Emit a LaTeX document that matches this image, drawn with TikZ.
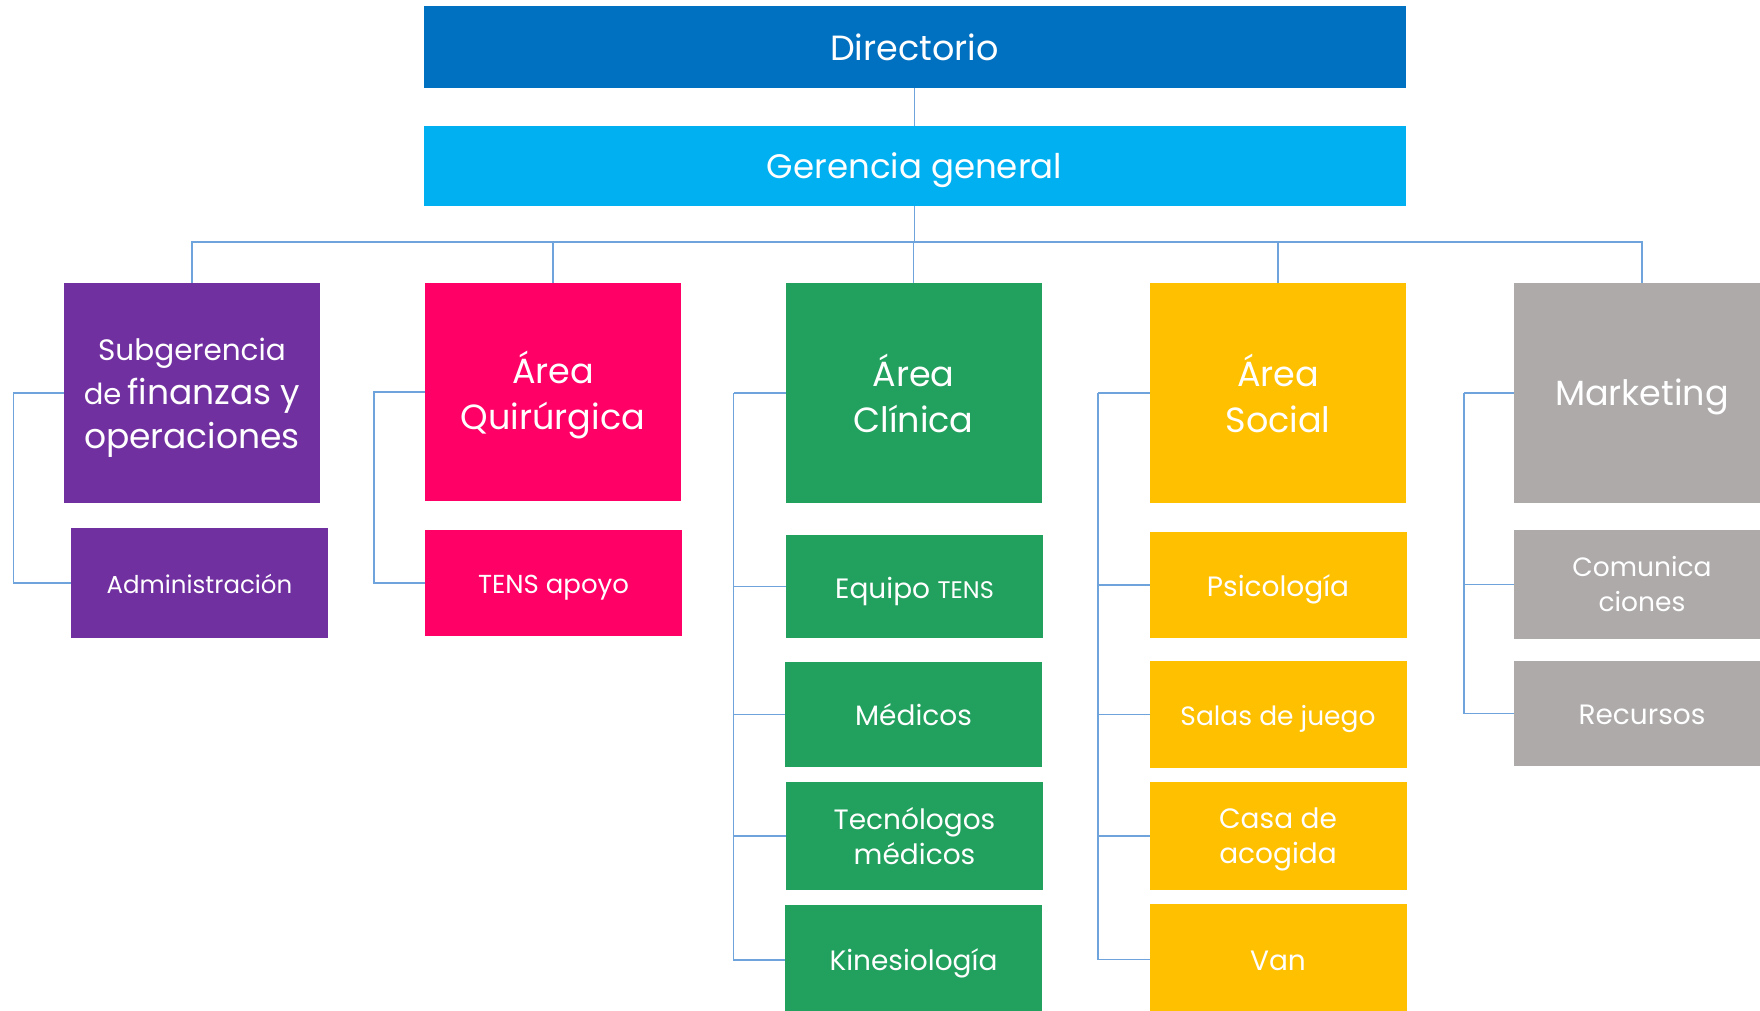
\documentclass[tikz,border=0pt]{standalone}
\usepackage{fontspec}
\setmainfont{Poppins}
\definecolor{cDir}{HTML}{0070C0}
\definecolor{cGer}{HTML}{00B0F0}
\definecolor{cSub}{HTML}{7030A0}
\definecolor{cQui}{HTML}{FF0066}
\definecolor{cCli}{HTML}{21A05E}
\definecolor{cSoc}{HTML}{FFC000}
\definecolor{cMkt}{HTML}{AEAAAA}
\definecolor{cLine}{HTML}{6FA3DC}
\begin{document}
\begin{tikzpicture}[x=1pt,y=-1pt,
  box/.style={rectangle,inner sep=0pt,outer sep=0pt,text=white,align=center},
  top/.style={box,font=\fontsize{35}{46}\selectfont},
  par/.style={box,minimum width=256pt,minimum height=220pt,font=\fontsize{35}{46}\selectfont},
  kid/.style={box,minimum width=257pt,font=\fontsize{28}{35}\selectfont},
  capc/.style={text height=#1,text depth=0pt},
  conn/.style={draw=cLine,line width=1.3pt}]
\useasboundingbox (0,0) rectangle (1760,1010);
\clip (0,0) rectangle (1760,1010);
\fill[white] (0,0) rectangle (1760,1010);

% top level
\node[top,fill=cDir,minimum width=982pt,minimum height=82pt,capc=26.5pt] (dir) at (914.5,47) {Directorio};
\node[top,fill=cGer,minimum width=982pt,minimum height=80pt,capc=25.5pt,font=\fontsize{34}{46}\selectfont] (ger) at (914.5,166) {Gerencia general};

% second level
\node[par,fill=cSub] (sub) at (192,393) {\fontsize{29.5}{43}\selectfont Subgerencia\\[-2pt]
  {\fontsize{29}{43}\selectfont de}\,{\fontsize{34.5}{43}\selectfont finanzas y}\\[-2pt]
  {\fontsize{34.5}{43}\selectfont \smash{operaciones}}};
\node[par,fill=cQui,minimum height=218pt,text depth=4pt] (qui) at (553,392) {Área\\\smash{Quirúrgica}};
\node[par,fill=cCli] (cli) at (913.5,393) {Área\\Clínica};
\node[par,fill=cSoc] (soc) at (1278,393) {Área\\Social};
\node[par,fill=cMkt,capc=25.5pt] (mkt) at (1642,393) {Marketing};

% children
\node[kid,fill=cSub,minimum height=110pt,font=\fontsize{24.5}{35}\selectfont,capc=20.5pt] (adm) at (199.5,583) {Administración};
\node[kid,fill=cQui,minimum height=106pt,font=\fontsize{26}{35}\selectfont,capc=20.5pt] (tap) at (553.5,583) {TENS apoyo};

\node[kid,fill=cCli,minimum height=103pt,capc=23pt] (eqt) at (914.5,586.5) {Equipo {\fontsize{24}{35}\selectfont TENS}};
\node[kid,fill=cCli,minimum height=105pt,capc=22pt] (med) at (913.5,714.5) {Médicos};
\node[kid,fill=cCli,minimum height=108pt] (tec) at (914.5,836) {Tecnólogos\\médicos};
\node[kid,fill=cCli,minimum height=110pt,capc=21.5pt] (kin) at (913.5,960) {Kinesiología};

\node[kid,fill=cSoc,minimum height=106pt,capc=23pt] (psi) at (1278,585) {Psicología};
\node[kid,fill=cSoc,minimum height=107pt,font=\fontsize{26.5}{35}\selectfont,capc=22pt] (sal) at (1278,714.5) {Salas de juego};
\node[kid,fill=cSoc,minimum height=108pt] (cas) at (1278,836) {Casa de\\\smash{acogida}};
\node[kid,fill=cSoc,minimum height=111pt,capc=21.5pt] (van) at (1278,959.5) {Van};

\node[kid,fill=cMkt,minimum height=109pt,font=\fontsize{26.5}{35}\selectfont] (com) at (1642,584.5) {Comunica\\ciones};
\node[kid,fill=cMkt,minimum height=105pt,capc=22pt] (rec) at (1642,713.5) {Recursos};

% connectors top
\coordinate (hb) at (914.5,242);
\draw[conn] (dir.south) -- (ger.north);
\draw[conn] (ger.south) -- (hb);
\draw[conn] (sub.north) -- (sub.north |- hb) -| (mkt.north);
\draw[conn] (qui.north) -- (qui.north |- hb);
\draw[conn] (cli.north) -- (cli.north |- hb);
\draw[conn] (soc.north) -- (soc.north |- hb);

% brackets
\draw[conn] (sub.west) -- ++(-50.5,0) |- (adm.west);
\draw[conn] (qui.west) -- ++(-51,0) |- (tap.west);

\draw[conn] (cli.west) -- ++(-52,0) coordinate (cl);
\draw[conn] (cl) |- (eqt.west);
\draw[conn] (cl) |- (med.west);
\draw[conn] (cl) |- (tec.west);
\draw[conn] (cl) |- (kin.west);

\draw[conn] (soc.west) -- ++(-52,0) coordinate (sl);
\draw[conn] (sl) |- (psi.west);
\draw[conn] (sl) |- (sal.west);
\draw[conn] (sl) |- (cas.west);
\draw[conn] (sl) |- (van.west);

\draw[conn] (mkt.west) -- ++(-50,0) coordinate (ml);
\draw[conn] (ml) |- (com.west);
\draw[conn] (ml) |- (rec.west);
\end{tikzpicture}
\end{document}
